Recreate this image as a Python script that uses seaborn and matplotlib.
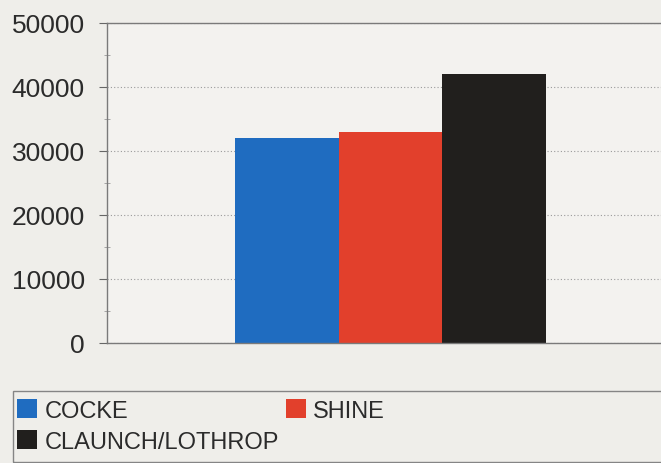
import matplotlib
matplotlib.use("Agg")
import matplotlib.pyplot as plt
from matplotlib.patches import Patch, Rectangle
from matplotlib.ticker import MultipleLocator
import pandas as pd
import seaborn as sns

candidates = ["COCKE", "SHINE", "CLAUNCH/LOTHROP"]
votes = [32000, 33000, 42000]
colors = ["#1f6cc0", "#e2402c", "#211f1d"]
yticks = [0, 10000, 20000, 30000, 40000, 50000]

BG = "#efeeea"
TEXT = "#2b2b2b"

sns.set_theme(style="white")
plt.rcParams["font.family"] = ["Liberation Sans", "DejaVu Sans"]

df = pd.DataFrame({"group": ["all"] * len(candidates),
                   "candidate": candidates,
                   "votes": votes})

W, H = 661, 464
fig = plt.figure(figsize=(W / 100, H / 100), dpi=100, facecolor=BG)
ax = fig.add_axes([107 / W, 120 / H, 567 / W, 320 / H])
ax.set_facecolor("#f3f2ef")

sns.barplot(data=df, x="group", y="votes", hue="candidate",
            hue_order=candidates, palette=colors, saturation=1,
            width=0.55, legend=False, linewidth=0, ax=ax)

ax.set_xlim(-0.5, 0.5)
ax.set_ylim(0, 50000)
ax.set_yticks(yticks)
ax.set_yticklabels([str(v) for v in yticks], fontsize=19, color=TEXT)
ax.yaxis.set_minor_locator(MultipleLocator(5000))
ax.tick_params(axis="y", which="major", direction="out", length=6,
               width=0.8, color="#666666", pad=10, left=True)
ax.tick_params(axis="y", which="minor", direction="inout", length=4,
               width=0.6, color="#999999", left=True)
ax.set_xticks([])
ax.set_xlabel("")
ax.set_ylabel("")

ax.grid(axis="y", which="major", linestyle=(0, (1, 2)), color="#9a9a9a",
        linewidth=0.8)
ax.set_axisbelow(True)
for side in ["left", "top", "bottom"]:
    ax.spines[side].set_color("#7a7a7a")
    ax.spines[side].set_linewidth(1.0)
ax.spines["right"].set_visible(False)

# legend box spanning to the right edge
fig.patches.append(Rectangle((13 / W, 1 / H), 660 / W, 71 / H,
                             transform=fig.transFigure, fill=False,
                             edgecolor="#858585", linewidth=1.0))

handles = [Patch(facecolor=c, edgecolor="none") for c in colors]
order = [0, 2, 1]
fig.legend([handles[i] for i in order], [candidates[i] for i in order],
           ncol=2, loc="upper left",
           bbox_to_anchor=(15 / W, 1 - 398 / H),
           frameon=False, fontsize=17, labelcolor=TEXT,
           handlelength=0.85, handleheight=0.85, handletextpad=0.3,
           columnspacing=0.3, labelspacing=0.35, borderpad=0.1,
           borderaxespad=0)

fig.savefig("out.png", dpi=100, facecolor=BG)
